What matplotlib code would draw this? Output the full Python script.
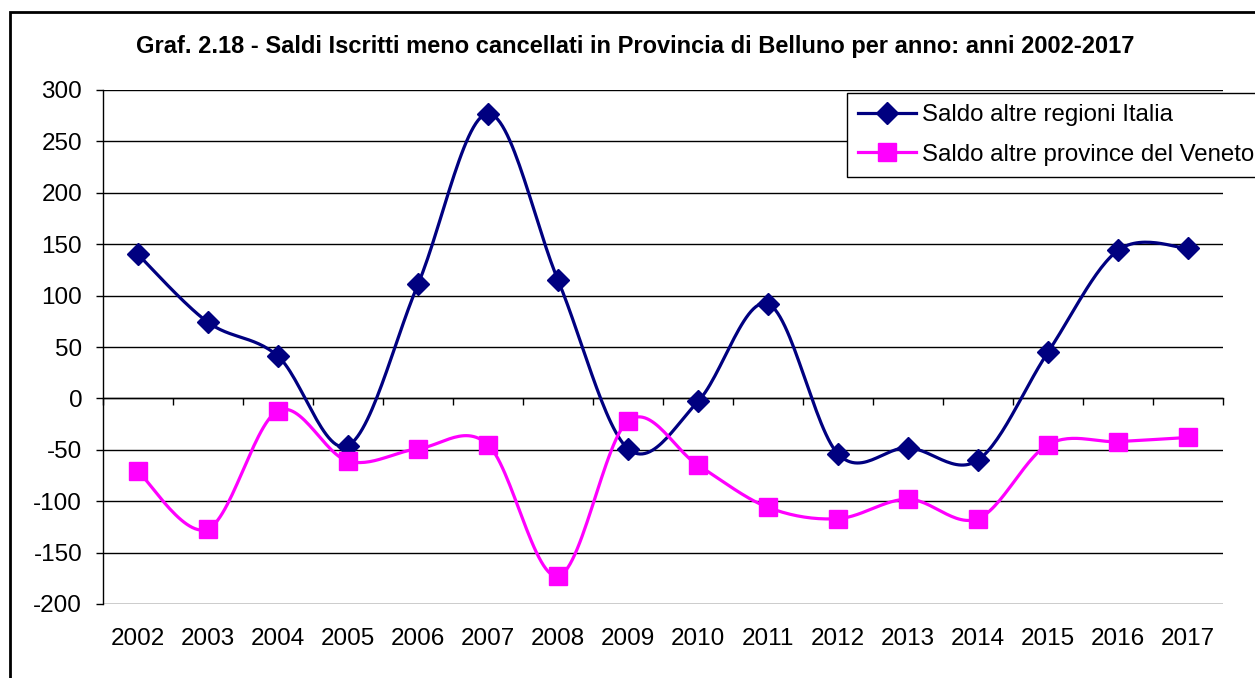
import numpy as np
import matplotlib.pyplot as plt
from matplotlib.patches import Rectangle

plt.rcParams['font.family'] = ['Liberation Sans', 'DejaVu Sans']
plt.rcParams['axes.unicode_minus'] = False

# --- Data ---
anni = ['2002', '2003', '2004', '2005', '2006', '2007', '2008', '2009',
        '2010', '2011', '2012', '2013', '2014', '2015', '2016', '2017']
saldo_italia = [140, 74, 41, -46, 111, 277, 115, -49, -3, 92, -54, -48, -60, 45, 144, 146]
saldo_veneto = [-71, -127, -12, -61, -49, -45, -173, -22, -65, -106, -117, -98, -117, -45, -42, -38]

title = 'Graf. 2.18 - Saldi Iscritti meno cancellati in Provincia di Belluno per anno: anni 2002-2017'
label_italia = 'Saldo altre regioni Italia'
label_veneto = 'Saldo altre province del Veneto'


def smooth(xs, ys, n=30):
    # Excel-like smoothed line: cubic Bezier with Catmull-Rom control points
    xs = np.asarray(xs, float)
    ys = np.asarray(ys, float)
    px = np.concatenate([[xs[0]], xs, [xs[-1]]])
    py = np.concatenate([[ys[0]], ys, [ys[-1]]])
    t = np.linspace(0, 1, n)[:, None]
    out_x, out_y = [], []
    for i in range(1, len(px) - 2):
        p0 = np.array([px[i], py[i]])
        p3 = np.array([px[i + 1], py[i + 1]])
        c1 = p0 + (np.array([px[i + 1], py[i + 1]]) - np.array([px[i - 1], py[i - 1]])) / 6
        c2 = p3 - (np.array([px[i + 2], py[i + 2]]) - np.array([px[i], py[i]])) / 6
        b = ((1 - t) ** 3) * p0 + 3 * ((1 - t) ** 2) * t * c1 + 3 * (1 - t) * t ** 2 * c2 + t ** 3 * p3
        out_x.append(b[:, 0])
        out_y.append(b[:, 1])
    return np.concatenate(out_x), np.concatenate(out_y)


fig = plt.figure(figsize=(12.55, 6.78), dpi=100)
ax = fig.add_axes([103 / 1255, 1 - 604 / 678, 1120 / 1255, 514 / 678])

x = np.arange(len(anni))
navy = '#000080'
magenta = '#FF00FF'

sx, sy = smooth(x, saldo_italia)
ax.plot(sx, sy, color=navy, lw=2.3, zorder=3)
ax.plot(x, saldo_italia, ls='none', marker='D', ms=11, color=navy, zorder=4)
sx, sy = smooth(x, saldo_veneto)
ax.plot(sx, sy, color=magenta, lw=2.3, zorder=3)
ax.plot(x, saldo_veneto, ls='none', marker='s', ms=13, color=magenta, zorder=4)

ax.set_xlim(-0.5, len(anni) - 0.5)
ax.set_ylim(-200, 300)
ax.set_yticks(range(-200, 301, 50))
ax.yaxis.grid(True, color='black', lw=1)
ax.set_axisbelow(True)
ax.tick_params(axis='y', direction='out', length=5, width=1, pad=10, labelsize=17.5)

ax.set_xticks(x)
ax.set_xticklabels(anni)
ax.tick_params(axis='x', length=0, pad=17, labelsize=17.5)

for s in ['top', 'right', 'bottom']:
    ax.spines[s].set_visible(False)
ax.spines['left'].set_linewidth(1)

# category axis crossing at zero, ticks between categories
zero_ax = ax.secondary_xaxis(200 / 500)
zero_ax.set_xticks(np.arange(len(anni) + 1) - 0.5)
zero_ax.set_xticklabels([])
zero_ax.tick_params(direction='out', length=5, width=1)
zero_ax.spines['bottom'].set_linewidth(1)

# legend (handles built from proxy lines)
h1, = ax.plot([], [], color=navy, lw=2.3, marker='D', ms=11)
h2, = ax.plot([], [], color=magenta, lw=2.3, marker='s', ms=13)
leg = fig.legend([h1, h2], [label_italia, label_veneto], loc='upper left',
                 bbox_to_anchor=(847 / 1255, 1 - 93 / 678), fontsize=17.3,
                 frameon=True, fancybox=False, edgecolor='black', framealpha=1,
                 handlelength=2.4, handletextpad=0.25, borderpad=0.47,
                 labelspacing=0.72, borderaxespad=0)
leg.get_frame().set_linewidth(1)

fig.text(635 / 1255, 1 - 46 / 678, title, ha='center', va='center',
         fontsize=17, fontweight='bold')

fig.patches.append(Rectangle((10 / 1255, -0.1), 1.2, 1.1 - 12 / 678, transform=fig.transFigure,
                             fill=False, edgecolor='black', lw=2))

plt.savefig('out.png', dpi=100)
plt.close()
